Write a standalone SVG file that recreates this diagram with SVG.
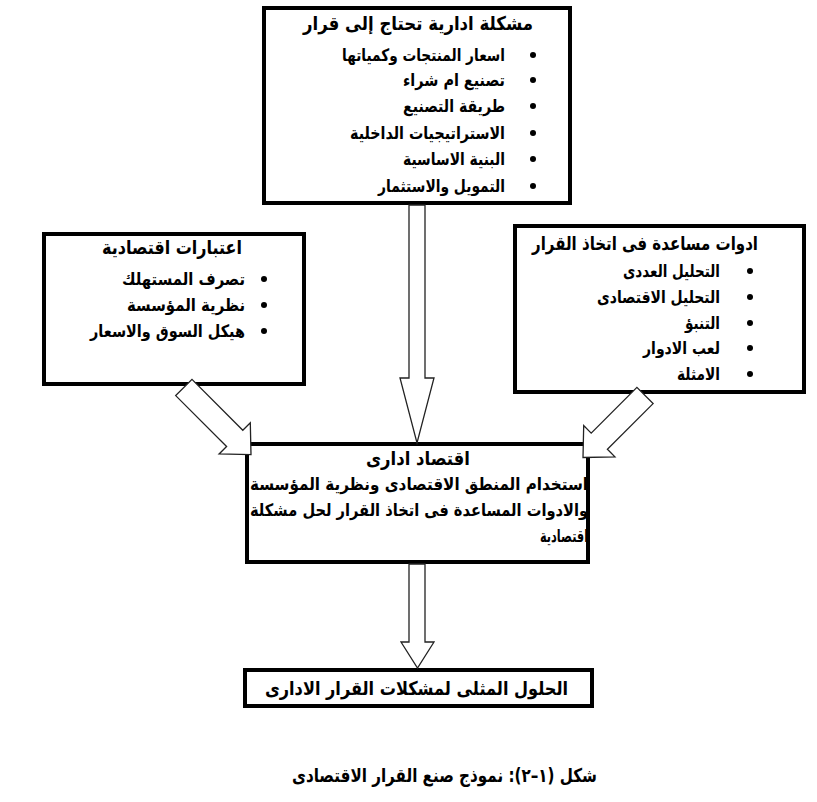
<svg xmlns="http://www.w3.org/2000/svg" width="817" height="802" viewBox="0 0 817 802">
<style>
.box{fill:#fff;stroke:#000;stroke-width:4}
.arr{fill:#fff;stroke:#222;stroke-width:1.3;stroke-linejoin:miter}
text{font-family:"DejaVu Sans","Noto Sans",sans-serif;font-weight:bold;fill:#000;direction:rtl;text-anchor:middle}
.t{font-size:19px}
.i{font-size:17px}
.b{fill:#000}
</style>
<rect width="817" height="802" fill="#fff"/>
<g id="problem">
<rect class="box" x="264" y="8" width="306" height="195"/>
<text class="t" x="418" y="30" textLength="230" lengthAdjust="spacingAndGlyphs">مشكلة ادارية تحتاج إلى قرار</text>
<circle class="b" cx="533" cy="55" r="3"/><text class="i" x="423.5" y="61" textLength="163" lengthAdjust="spacingAndGlyphs">اسعار المنتجات وكمياتها</text>
<circle class="b" cx="533" cy="80" r="3"/><text class="i" x="454" y="86" textLength="102" lengthAdjust="spacingAndGlyphs">تصنيع ام شراء</text>
<circle class="b" cx="533" cy="106" r="3"/><text class="i" x="454" y="112" textLength="102" lengthAdjust="spacingAndGlyphs">طريقة التصنيع</text>
<circle class="b" cx="533" cy="133" r="3"/><text class="i" x="427.5" y="139" textLength="155" lengthAdjust="spacingAndGlyphs">الاستراتيجيات الداخلية</text>
<circle class="b" cx="533" cy="159" r="3"/><text class="i" x="454" y="165" textLength="102" lengthAdjust="spacingAndGlyphs">البنية الاساسية</text>
<circle class="b" cx="533" cy="186" r="3"/><text class="i" x="441.5" y="192" textLength="127" lengthAdjust="spacingAndGlyphs">التمويل والاستثمار</text>
</g>
<g id="economic">
<rect class="box" x="44" y="234" width="260" height="150"/>
<text class="t" x="172" y="254" textLength="140" lengthAdjust="spacingAndGlyphs">اعتبارات اقتصادية</text>
<circle class="b" cx="264" cy="279" r="3"/><text class="i" x="183.5" y="285" textLength="123" lengthAdjust="spacingAndGlyphs">تصرف المستهلك</text>
<circle class="b" cx="264" cy="305" r="3"/><text class="i" x="186" y="311" textLength="118" lengthAdjust="spacingAndGlyphs">نظرية المؤسسة</text>
<circle class="b" cx="264" cy="331" r="3"/><text class="i" x="167.5" y="337" textLength="155" lengthAdjust="spacingAndGlyphs">هيكل السوق والاسعار</text>
</g>
<g id="tools">
<rect class="box" x="515" y="226" width="289" height="166"/>
<text class="t" x="645" y="250" textLength="226" lengthAdjust="spacingAndGlyphs">ادوات مساعدة فى اتخاذ القرار</text>
<circle class="b" cx="750" cy="271" r="3"/><text class="i" x="671.5" y="277" textLength="97" lengthAdjust="spacingAndGlyphs">التحليل العددى</text>
<circle class="b" cx="750" cy="297" r="3"/><text class="i" x="658.5" y="303" textLength="123" lengthAdjust="spacingAndGlyphs">التحليل الاقتصادى</text>
<circle class="b" cx="750" cy="323" r="3"/><text class="i" x="702.5" y="329" textLength="35" lengthAdjust="spacingAndGlyphs">التنبؤ</text>
<circle class="b" cx="750" cy="348" r="3"/><text class="i" x="681.5" y="354" textLength="77" lengthAdjust="spacingAndGlyphs">لعب الادوار</text>
<circle class="b" cx="750" cy="374" r="3"/><text class="i" x="698.5" y="380" textLength="43" lengthAdjust="spacingAndGlyphs">الامثلة</text>
</g>
<g id="managerial">
<rect class="box" x="247" y="444" width="341" height="118"/>
<text class="t" x="418" y="465" textLength="104" lengthAdjust="spacingAndGlyphs">اقتصاد ادارى</text>
<text class="i" x="419" y="490" textLength="338" lengthAdjust="spacingAndGlyphs">استخدام المنطق الاقتصادى ونظرية المؤسسة</text>
<text class="i" x="419" y="516" textLength="338" lengthAdjust="spacingAndGlyphs">والادوات المساعدة فى اتخاذ القرار لحل مشكلة</text>
<text class="i" x="564" y="542" textLength="48" lengthAdjust="spacingAndGlyphs">اقتصادية</text>
</g>
<g id="solutions">
<rect class="box" x="245" y="670" width="347" height="36"/>
<text class="t" x="416.5" y="695" textLength="303" lengthAdjust="spacingAndGlyphs">الحلول المثلى لمشكلات القرار الادارى</text>
</g>
<g id="connectors">
<polygon class="arr" points="409,205 425,205 425,378 434,378 417,443 400,378 409,378"/>
<polygon class="arr" points="192,379.4 242.8,430.3 250.3,422.8 251,454.7 219.1,454 226.6,446.5 175.7,395.6"/>
<polygon class="arr" points="636.9,387.4 591.2,433.1 583.7,425.6 583,457.5 614.9,456.8 607.4,449.3 653.1,403.6"/>
<polygon class="arr" points="409,564 425,564 425,642 434,642 417.5,668 401,642 409,642"/>
</g>
<text id="caption" class="t" x="444.5" y="782" textLength="305" lengthAdjust="spacingAndGlyphs">شكل (١–٢): نموذج صنع القرار الاقتصادى</text>
</svg>
